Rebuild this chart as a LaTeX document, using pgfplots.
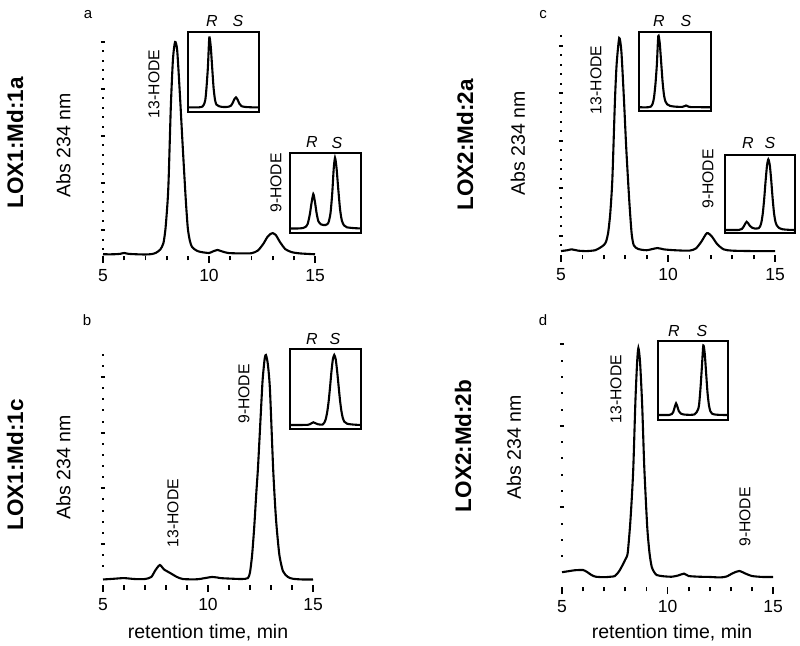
\documentclass[border=0pt]{standalone}
\usepackage{pgfplots}
\pgfplotsset{compat=1.18}
\usepackage{fontspec}
\setmainfont{Liberation Sans}
\newcommand{\fs}[1]{\fontsize{#1bp}{#1bp}\selectfont}
\pgfplotsset{
  mainax/.style={scale only axis, anchor=south west, xmin=5, xmax=15, ymin=0, ymax=102,
    axis line style={draw=none}, tick pos=left, tick align=outside,
    xtick={5,10,15}, minor xtick={6,7,8,9,11,12,13,14}, ytick=\empty,
    major tick length=7bp, minor tick length=4.5bp,
    every tick/.style={black, line width=1.8bp},
    /pgf/number format/assume math mode=true,
    xticklabel style={font=\fs{17.5}, inner sep=2bp, yshift=-4.5bp},
    clip=false},
  yax/.style={scale only axis, anchor=south west, xmin=5, xmax=15, ymin=0, ymax=102,
    axis line style={draw=none}, ytick pos=left, xtick=\empty, tick align=center,
    yticklabels={}, major tick length=4.2bp, minor tick length=2bp,
    every tick/.style={black, line width=2bp}},
  inset/.style={scale only axis, anchor=south west, xmin=0, xmax=10, ymin=0, ymax=100,
    xtick=\empty, ytick=\empty, axis line style={line width=1.7bp}},
  tr/.style={black, line width=2.1bp, smooth, tension=0.4, no marks},
}
\begin{document}
\begin{tikzpicture}
\useasboundingbox (0,0) rectangle (800bp,646bp);

% ---------------- panel a ----------------
\begin{axis}[yax, at={(103bp,390bp)}, width=212bp, height=218.3bp,
  ytick={12.1,34.1,56.1,78.1,100.1},
  minor ytick={3.3,7.7,16.5,20.9,25.3,29.7,38.5,42.9,47.3,51.7,60.5,64.9,69.3,73.7,82.5,86.9,91.3,95.7}]
\end{axis}
\begin{axis}[mainax, at={(103bp,390bp)}, width=212bp, height=218.3bp]
\addplot[tr] coordinates {(5.0,0.8)(5.5,0.8)(5.8,1.0)(6.0,1.4)(6.2,1.0)(6.6,0.8)(7.0,0.7)(7.3,0.9)
(7.5,1.5)(7.7,3)(7.85,6)(7.95,13)(8.05,26)(8.1,37)(8.2,70)(8.3,92)(8.4,100)(8.5,96)(8.63,75)
(8.75,53)(8.9,27)(9.0,13)(9.1,7)(9.2,4.2)(9.4,2.6)(9.6,1.9)(10.0,1.4)(10.2,2.2)(10.4,2.8)(10.6,2.2)
(10.9,1.4)(11.5,1.2)(12.0,1.3)(12.3,2.5)(12.55,5.5)(12.75,8.8)(12.9,10.3)(13.0,10.7)(13.15,9.8)
(13.35,6.5)(13.6,3.2)(13.9,1.8)(14.3,1.2)(15,0.8)};
\end{axis}
\begin{axis}[inset, at={(188.3bp,534.3bp)}, width=71bp, height=79.4bp]
\addplot[tr] coordinates {(0,5.5)(1.5,5.5)(2.0,6.5)(2.2,9)(2.4,15)(2.56,30)(2.76,56)(2.96,93.5)
(3.16,82)(3.36,56)(3.56,30)(3.76,15)(3.96,9)(4.3,7)(4.8,6)(5.5,6)(6.0,7.5)(6.3,12)(6.5,16)(6.72,18)
(6.95,15)(7.2,10)(7.5,7)(8,6)(9,5.5)(10,5.5)};
\end{axis}
\begin{axis}[inset, at={(290bp,412.7bp)}, width=71bp, height=80bp]
\addplot[tr] coordinates {(0,6)(1.0,6)(1.8,6.5)(2.2,8)(2.5,12)(2.8,24)(3.0,36)(3.28,49)(3.5,40)
(3.75,25)(4.0,15)(4.4,11)(5.0,10.4)(5.4,13)(5.7,25)(5.95,50)(6.15,80)(6.34,94.5)(6.55,82)(6.8,55)
(7.05,30)(7.3,16)(7.6,10)(8.0,7.5)(9,6.5)(10,6)};
\end{axis}

% ---------------- panel b ----------------
\begin{axis}[yax, at={(103bp,61bp)}, width=210bp, height=234.6bp,
  ytick={17.8,42.0,66.2,90.4},
  minor ytick={8.1,13.0,22.6,27.5,32.3,37.2,46.8,51.7,56.5,61.4,71.0,75.9,80.7,85.6,95.2,100}]
\end{axis}
\begin{axis}[mainax, at={(103bp,61bp)}, width=210bp, height=234.6bp]
\addplot[tr] coordinates {(5.0,2.4)(5.5,2.7)(6.0,3.0)(6.5,2.6)(7.0,2.6)(7.3,3.5)(7.5,6.5)(7.71,8.7)
(7.9,6.8)(8.2,5.2)(8.5,3.6)(8.8,2.6)(9.5,2.5)(10.2,3.5)(10.6,3.0)(11.0,2.8)(11.6,2.6)(11.9,3)
(12.0,5.5)(12.1,13)(12.2,25)(12.3,40)(12.38,51)(12.5,72)(12.6,89)(12.7,98.5)(12.76,100)(12.85,96)
(12.95,85)(13.1,51)(13.2,34)(13.27,25)(13.4,13)(13.57,6)(13.8,3.5)(14.05,2.7)(14.5,2.4)(15.0,2.4)};
\end{axis}
\begin{axis}[inset, at={(290bp,217bp)}, width=70.7bp, height=80bp]
\addplot[tr] coordinates {(0,5)(2.5,5.2)(3.0,7)(3.3,8.4)(3.6,7.2)(4.0,5.8)(4.6,5.5)(4.86,8)
(5.06,12.5)(5.26,21)(5.46,34)(5.66,52)(5.86,71.5)(6.06,87)(6.26,92.5)(6.46,87.5)(6.66,73)(6.86,55)
(7.06,37)(7.26,23)(7.46,14)(7.7,9)(8.1,6.5)(9,5.5)(10,5)};
\end{axis}

% ---------------- panel c ----------------
\begin{axis}[yax, at={(561bp,391bp)}, width=214bp, height=221.3bp,
  ytick={8.9,30.8,52.7,74.6,96.5},
  minor ytick={4.5,13.3,17.7,22.0,26.4,35.2,39.6,43.9,48.3,57.1,61.5,65.8,70.2,79.0,83.4,87.7,92.1,100.9}]
\end{axis}
\begin{axis}[mainax, at={(561bp,391bp)}, width=214bp, height=221.3bp]
\addplot[tr] coordinates {(5.0,1.8)(5.3,2.2)(5.5,2.6)(5.8,2.0)(6.2,1.8)(6.6,2.2)(6.85,3.5)(7.0,4.6)
(7.1,6)(7.2,10)(7.3,19)(7.4,35)(7.52,71)(7.6,88)(7.72,100)(7.82,94)(7.94,72)(8.05,49)(8.19,25)
(8.3,10)(8.4,4.5)(8.6,2.8)(9.0,2.2)(9.5,3.2)(9.8,2.6)(10.3,2.2)(11.0,2.0)(11.3,3)(11.55,6)(11.82,10.1)
(12.05,8.5)(12.3,5)(12.6,2.6)(13.0,2.0)(14.0,1.8)(15,1.8)};
\end{axis}
\begin{axis}[inset, at={(639.3bp,535bp)}, width=71.4bp, height=79bp]
\addplot[tr] coordinates {(0,4.7)(1.2,4.7)(1.6,5.5)(1.86,9)(2.06,17)(2.26,34)(2.46,59)(2.66,95)
(2.86,86)(3.06,62)(3.26,37)(3.46,20)(3.66,12)(3.9,8.5)(4.3,6.5)(5,5.5)(6,5.2)(6.3,6)(6.55,7)(6.8,6)
(7.2,5)(10,4.7)};
\end{axis}
\begin{axis}[inset, at={(725bp,412.7bp)}, width=70bp, height=78.3bp]
\addplot[tr] coordinates {(0,4.2)(2.0,4.3)(2.4,5.5)(2.7,9)(2.9,12.5)(3.1,14.8)(3.3,13)(3.55,9.5)
(3.9,7)(4.3,6)(4.8,6.5)(5.0,8.5)(5.2,14)(5.4,25.5)(5.6,44)(5.8,67)(6.0,86.5)(6.19,94.5)(6.4,87)
(6.6,68)(6.8,45)(7.0,26)(7.2,15)(7.4,10)(7.7,7)(8.2,5.2)(9,4.5)(10,4.2)};
\end{axis}

% ---------------- panel d ----------------
\begin{axis}[yax, at={(562bp,59bp)}, width=211bp, height=243.8bp,
  ytick={33.3,67.4,101.5},
  minor ytick={12.8,19.6,26.5,40.1,46.9,53.8,60.6,74.2,81.1,87.9,94.7}]
\end{axis}
\begin{axis}[mainax, at={(562bp,59bp)}, width=211bp, height=243.8bp]
\addplot[tr] coordinates {(5.0,6.2)(5.3,6.6)(5.6,7.0)(6.0,7.1)(6.2,6.2)(6.4,5.0)(6.6,4.3)(7.0,4.1)
(7.3,4.3)(7.51,4.6)(7.7,6.5)(7.83,8.5)(8.0,11.5)(8.11,14)(8.22,25)(8.3,36)(8.38,50)(8.48,78)(8.56,94)
(8.62,100)(8.7,94)(8.8,76)(8.9,50)(9.04,25)(9.15,14)(9.25,8.5)(9.35,6.5)(9.49,5)(9.8,4.5)(10.2,4.3)
(10.5,4.8)(10.78,5.6)(11.0,4.6)(11.5,4.3)(12.0,4.2)(12.5,4.0)(12.8,4.4)(13.1,5.8)(13.4,6.7)(13.7,5.6)
(14.0,4.6)(14.5,4.2)(15.0,4.2)};
\end{axis}
\begin{axis}[inset, at={(657.7bp,226bp)}, width=70.6bp, height=79.3bp]
\addplot[tr] coordinates {(0,6.3)(1.6,6.3)(2.0,7.5)(2.2,10)(2.4,16)(2.6,21)(2.8,16.5)(3.0,11)(3.3,8)
(3.8,6.8)(4.6,6.5)(5.2,7)(5.5,9.5)(5.7,13)(5.86,19)(6.06,40)(6.26,67)(6.46,94)(6.66,84)(6.86,59)
(7.06,34)(7.26,18.5)(7.46,11)(7.7,8)(8.2,6.8)(9,6.4)(10,6.3)};
\end{axis}

% ---------------- text ----------------
\node[font=\fs{15}] at (88bp,631.5bp) {a};
\node[font=\fs{15}] at (87bp,326bp) {b};
\node[font=\fs{15}] at (543bp,631.5bp) {c};
\node[font=\fs{15}] at (543bp,326bp) {d};

\node[rotate=90, font=\fs{22.5}\bfseries] at (15bp,503bp) {LOX1:Md:1a};
\node[rotate=90, font=\fs{22.5}\bfseries] at (465bp,501bp) {LOX2:Md:2a};
\node[rotate=90, font=\fs{22.5}\bfseries] at (15bp,181bp) {LOX1:Md:1c};
\node[rotate=90, font=\fs{22.5}\bfseries] at (463bp,200bp) {LOX2:Md:2b};

\node[rotate=90, font=\fs{19.5}] at (63.5bp,501bp) {Abs 234 nm};
\node[rotate=90, font=\fs{19.5}] at (518bp,503bp) {Abs 234 nm};
\node[rotate=90, font=\fs{19.5}] at (63.5bp,179bp) {Abs 234 nm};
\node[rotate=90, font=\fs{19.5}] at (514bp,199bp) {Abs 234 nm};

\node[font=\fs{19.5}] at (208bp,13bp) {retention time, min};
\node[font=\fs{19.5}] at (672bp,13bp) {retention time, min};

\node[rotate=90, font=\fs{15.7}] at (154bp,562bp) {13-HODE};
\node[rotate=90, font=\fs{15.7}] at (276bp,463bp) {9-HODE};
\node[rotate=90, font=\fs{15.7}] at (596bp,566bp) {13-HODE};
\node[rotate=90, font=\fs{15.7}] at (708bp,467bp) {9-HODE};
\node[rotate=90, font=\fs{15.7}] at (244bp,252bp) {9-HODE};
\node[rotate=90, font=\fs{15.7}] at (173bp,133bp) {13-HODE};
\node[rotate=90, font=\fs{15.7}] at (616bp,257bp) {13-HODE};
\node[rotate=90, font=\fs{15.7}] at (745bp,129bp) {9-HODE};

\node[font=\fs{16}\itshape] at (212bp,625bp) {R};
\node[font=\fs{16}\itshape] at (238bp,625bp) {S};
\node[font=\fs{16}\itshape] at (312bp,503.5bp) {R};
\node[font=\fs{16}\itshape] at (337bp,503.5bp) {S};
\node[font=\fs{16}\itshape] at (659bp,625bp) {R};
\node[font=\fs{16}\itshape] at (686bp,625bp) {S};
\node[font=\fs{16}\itshape] at (748bp,503bp) {R};
\node[font=\fs{16}\itshape] at (770bp,503bp) {S};
\node[font=\fs{16}\itshape] at (312bp,307bp) {R};
\node[font=\fs{16}\itshape] at (335bp,307bp) {S};
\node[font=\fs{16}\itshape] at (674bp,315bp) {R};
\node[font=\fs{16}\itshape] at (702bp,315bp) {S};
\end{tikzpicture}
\end{document}
